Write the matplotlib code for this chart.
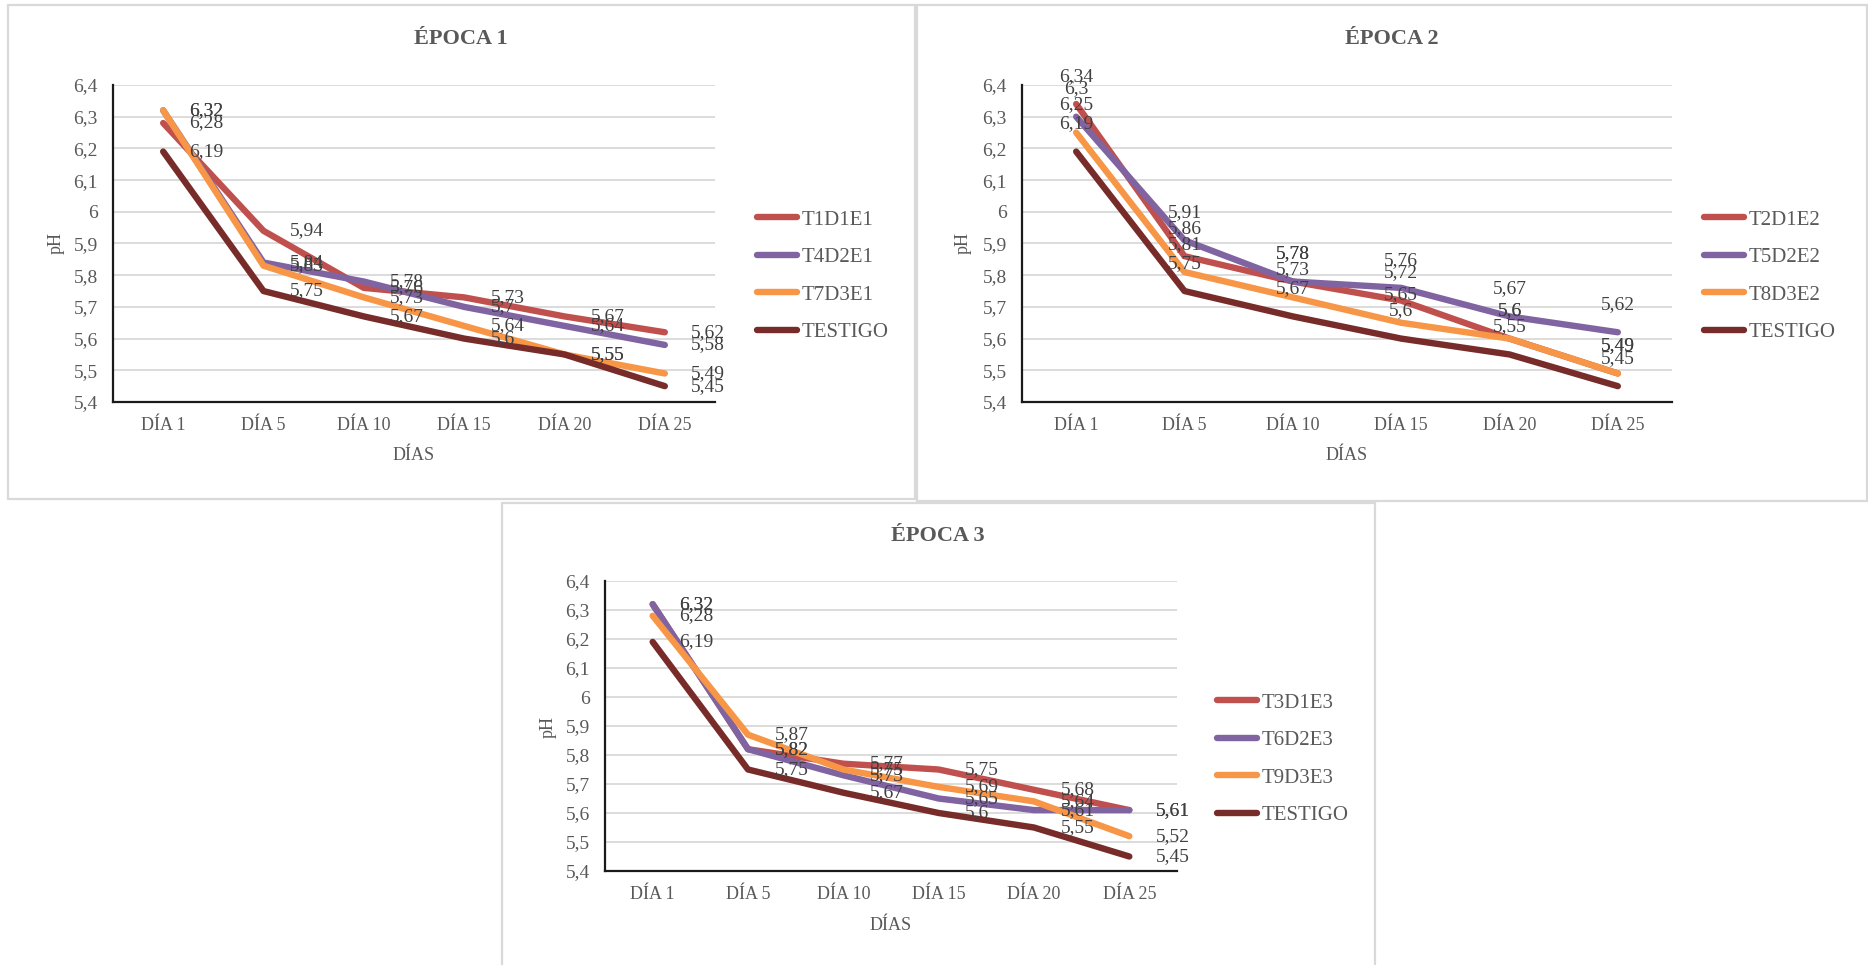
import matplotlib
matplotlib.use('Agg')
import matplotlib.pyplot as plt
from matplotlib.patches import Rectangle

plt.rcParams['font.family'] = ['Liberation Serif', 'DejaVu Serif']

# data (pH by day)
dias = ['DÍA 1', 'DÍA 5', 'DÍA 10', 'DÍA 15', 'DÍA 20', 'DÍA 25']
yticks = [5.4, 5.5, 5.6, 5.7, 5.8, 5.9, 6.0, 6.1, 6.2, 6.3, 6.4]
testigo = [6.19, 5.75, 5.67, 5.60, 5.55, 5.45]

e1_names = ['T1D1E1', 'T4D2E1', 'T7D3E1', 'TESTIGO']
e1_t1d1 = [6.28, 5.94, 5.76, 5.73, 5.67, 5.62]
e1_t4d2 = [6.32, 5.84, 5.78, 5.70, 5.64, 5.58]
e1_t7d3 = [6.32, 5.83, 5.73, 5.64, 5.55, 5.49]

e2_names = ['T2D1E2', 'T5D2E2', 'T8D3E2', 'TESTIGO']
e2_t2d1 = [6.34, 5.86, 5.78, 5.72, 5.60, 5.49]
e2_t5d2 = [6.30, 5.91, 5.78, 5.76, 5.67, 5.62]
e2_t8d3 = [6.25, 5.81, 5.73, 5.65, 5.60, 5.49]

e3_names = ['T3D1E3', 'T6D2E3', 'T9D3E3', 'TESTIGO']
e3_t3d1 = [6.32, 5.82, 5.77, 5.75, 5.68, 5.61]
e3_t6d2 = [6.32, 5.82, 5.73, 5.65, 5.61, 5.61]
e3_t9d3 = [6.28, 5.87, 5.75, 5.69, 5.64, 5.52]

colors = ['#C0504D', '#8064A2', '#F79646', '#772C2A']
GRIS = '#595959'

W, H = 1868, 965
fig = plt.figure(figsize=(W / 100, H / 100), dpi=100)


def fx(x):
    return x / W


def fy(y):
    return 1 - y / H


def coma(v):
    return f'{v:g}'.replace('.', ',')


def panel(series, names, title, box, axbox, title_xy, ph_xy, dias_xy,
          leg_x, leg_y, above):
    # border of the chart area
    l, t, r, b = box
    fig.patches.append(Rectangle((fx(l), fy(b)), (r - l) / W, (b - t) / H,
                                 transform=fig.transFigure, fill=False,
                                 edgecolor='#d9d9d9', lw=1.6))
    l, t, r, b = axbox
    ax = fig.add_axes([fx(l), fy(b), (r - l) / W, (b - t) / H])
    x = range(len(dias))
    handles = []
    for vals, name, c in zip(series, names, colors):
        h, = ax.plot(x, vals, color=c, lw=4.6, solid_capstyle='round',
                     solid_joinstyle='round', label=name, zorder=3)
        handles.append(h)
    for vals in series:
        for i, v in enumerate(vals):
            if above:
                ax.annotate(coma(v), (i, v), xytext=(0, 20),
                            textcoords='offset points', ha='center',
                            va='center', fontsize=14, color='#404040', zorder=5)
            else:
                ax.annotate(coma(v), (i, v), xytext=(19, 0),
                            textcoords='offset points', ha='left',
                            va='center', fontsize=14, color='#404040', zorder=5)
    ax.set_xlim(-0.5, len(dias) - 0.5)
    ax.set_ylim(5.4, 6.4)
    ax.set_yticks(yticks)
    ax.set_yticklabels([coma(v) for v in yticks])
    ax.set_xticks(list(x))
    ax.set_xticklabels(dias)
    ax.tick_params(length=0, labelsize=14, labelcolor=GRIS)
    ax.tick_params(axis='x', pad=11, labelsize=13)
    ax.tick_params(axis='y', pad=11)
    ax.grid(axis='y', color='#d9d9d9', lw=1.3, zorder=0)
    ax.set_axisbelow(True)
    for s in ['top', 'right']:
        ax.spines[s].set_visible(False)
    for s in ['left', 'bottom']:
        ax.spines[s].set_color('#1a1a1a')
        ax.spines[s].set_linewidth(1.6)
        ax.spines[s].set_zorder(4)
    fig.text(fx(title_xy[0]), fy(title_xy[1]), title, ha='center', va='center',
             fontsize=16, fontweight='bold', color=GRIS)
    fig.text(fx(ph_xy[0]), fy(ph_xy[1]), 'pH', ha='center', va='center',
             rotation=90, fontsize=13, color=GRIS)
    fig.text(fx(dias_xy[0]), fy(dias_xy[1]), 'DÍAS', ha='center', va='center',
             fontsize=13, color=GRIS)
    fig.legend(handles=handles, loc='center left',
               bbox_to_anchor=(fx(leg_x), fy(leg_y)), frameon=False,
               fontsize=15, labelcolor=GRIS, handlelength=1.9,
               handletextpad=0.25, labelspacing=0.86, borderpad=0,
               borderaxespad=0)
    return ax


panel([e1_t1d1, e1_t4d2, e1_t7d3, testigo], e1_names, 'ÉPOCA 1',
      (8, 5, 915, 499), (113, 85, 715, 402), (461, 39), (56, 243), (414, 455),
      757, 276, above=False)
panel([e2_t2d1, e2_t5d2, e2_t8d3, testigo], e2_names, 'ÉPOCA 2',
      (917, 5, 1867, 501), (1022, 85, 1672, 402), (1392, 39), (963, 243),
      (1347, 455), 1704, 276, above=True)
panel([e3_t3d1, e3_t6d2, e3_t9d3, testigo], e3_names, 'ÉPOCA 3',
      (502, 503, 1375, 975), (605, 581, 1177, 871), (938, 536), (548, 727),
      (891, 925), 1217, 759, above=False)

fig.savefig('out.png', dpi=100, facecolor='white')
